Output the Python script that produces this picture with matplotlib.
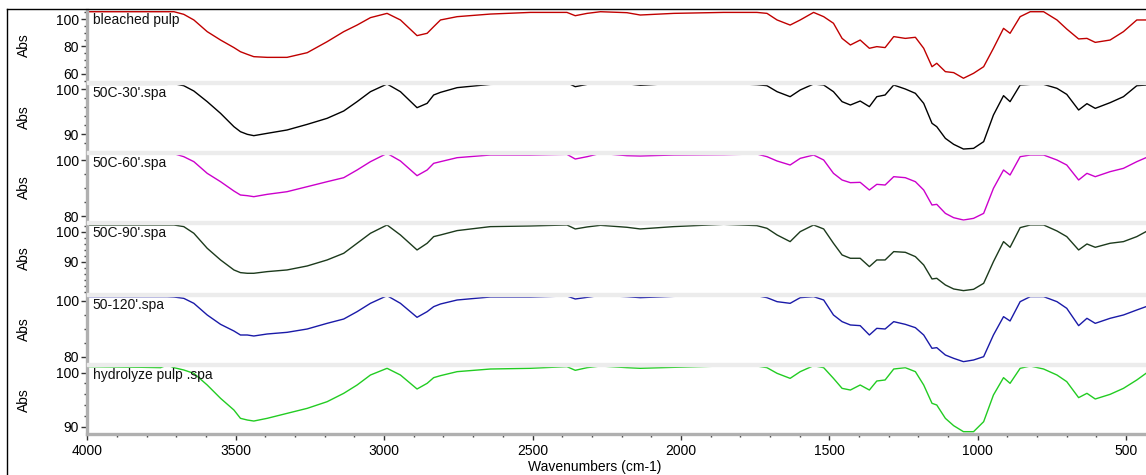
import matplotlib.pyplot as plt
from matplotlib.ticker import FixedLocator, MultipleLocator
from matplotlib.patches import Rectangle
from matplotlib.lines import Line2D

plt.rcParams['font.family'] = ['Liberation Sans', 'DejaVu Sans']

wavenumbers = [4000, 3820, 3753, 3731, 3708, 3675, 3641, 3596, 3551, 3506, 3484, 3461, 3439, 3394, 3327,
               3259, 3192, 3136, 3091, 3046, 2990, 2945, 2889, 2855, 2833,
               2810, 2754, 2642, 2507, 2384, 2356, 2316, 2271, 2182, 2137, 2024, 1856, 1744, 1710, 1676,
               1632, 1598, 1553, 1519, 1486, 1457, 1429, 1396, 1365, 1340, 1312, 1283, 1244, 1210, 1182,
               1154, 1138, 1109, 1081, 1048, 1014, 980, 947, 913, 891, 857, 823, 778, 733, 700, 660, 632,
               604, 554, 509, 464, 433]

bleached_pulp = [105.3, 105.3, 105.3, 105.3, 105.3, 103.4, 99.3, 90.8, 84.7, 79.2, 76.2, 74.3, 72.6, 72.1, 72.1,
                 75.5, 83.5, 90.8, 95.6, 101.0, 104.1, 99.3, 87.9, 89.6, 94.4,
                 99.3, 101.7, 103.6, 104.8, 104.8, 102.4, 104.1, 105.3, 104.6, 102.9, 104.1, 104.8, 104.8, 104.1, 99.3,
                 95.6, 99.3, 104.8, 101.7, 96.9, 85.9, 81.1, 84.7, 78.7, 79.9, 79.2, 87.2, 85.9, 86.7, 78.7,
                 65.3, 67.8, 61.7, 61.0, 56.9, 60.5, 65.3, 78.7, 93.2, 89.6, 101.7, 105.3, 105.3, 99.3, 92.7, 85.5, 85.9,
                 83.0, 84.7, 90.8, 99.3, 99.3]

c50_30 = [101.11, 101.11, 101.11, 101.11, 101.26, 100.81, 99.62, 97.24, 94.62, 91.64, 90.52, 89.93, 89.63, 90.15, 90.90,
          92.16, 93.51, 95.15, 97.24, 99.47, 101.19, 99.47, 95.89, 96.86, 98.73,
          99.32, 100.37, 101.11, 101.26, 101.49, 100.59, 101.11, 101.41, 101.26, 100.89, 101.34, 101.41, 101.04, 100.81, 99.47,
          98.35, 99.85, 101.19, 100.96, 99.47, 97.24, 96.49, 97.38, 96.12, 98.35, 98.73, 100.96, 100.07, 99.10, 96.86,
          92.39, 91.64, 89.03, 87.69, 86.64, 86.79, 88.29, 94.25, 98.58, 97.24, 100.96, 101.11, 101.11, 100.22, 98.87, 95.37, 96.79,
          95.74, 97.01, 98.35, 100.81, 100.96]

c50_60 = [102.33, 102.57, 102.57, 102.57, 102.45, 101.37, 99.58, 95.39, 92.39, 89.04, 87.61, 87.37, 87.01, 87.85, 88.80,
          90.60, 92.39, 93.83, 96.59, 99.58, 102.57, 99.82, 94.55, 96.59, 98.98,
          99.58, 101.01, 101.97, 101.97, 102.21, 100.53, 101.37, 102.57, 101.73, 101.61, 101.97, 102.09, 102.33, 101.37, 99.82,
          98.38, 100.77, 101.97, 100.18, 95.39, 93.00, 92.04, 92.16, 89.40, 91.44, 91.20, 94.19, 93.83, 92.39, 89.40,
          84.02, 84.26, 81.02, 79.47, 78.63, 79.23, 81.02, 90.00, 96.59, 94.79, 101.37, 101.97, 101.97, 100.18, 98.38, 93.00, 95.39,
          94.19, 95.99, 97.18, 99.58, 101.01]

c50_90 = [102.24, 102.24, 102.24, 102.24, 102.24, 101.69, 99.47, 94.47, 90.58, 87.25, 86.36, 86.14, 86.14, 86.69, 87.25,
          88.58, 90.58, 92.81, 96.14, 99.47, 102.24, 98.91, 93.91, 96.14, 98.36,
          98.91, 100.36, 101.69, 101.91, 102.24, 100.91, 101.58, 102.13, 101.47, 100.91, 101.69, 102.46, 102.02, 101.13, 98.91,
          96.69, 100.02, 102.24, 100.91, 96.14, 92.25, 91.14, 91.14, 88.36, 90.58, 90.58, 93.36, 93.13, 91.69, 88.91,
          84.25, 84.47, 82.25, 80.91, 80.36, 80.80, 82.80, 90.02, 96.69, 94.80, 101.35, 102.24, 102.24, 100.24, 98.36, 93.91, 95.91,
          94.80, 96.14, 96.69, 98.36, 100.02]

c50_120 = [101.57, 101.57, 101.57, 101.57, 101.44, 100.96, 99.16, 94.96, 91.59, 89.19, 87.75, 87.75, 87.39, 88.11, 88.71,
           89.91, 91.95, 93.51, 96.16, 99.16, 101.92, 99.16, 94.12, 96.16, 97.96,
           98.92, 100.36, 101.44, 101.44, 101.80, 100.72, 101.32, 102.04, 101.57, 101.20, 101.68, 102.16, 101.92, 101.20, 99.76,
           99.16, 101.20, 101.57, 100.36, 94.96, 92.56, 91.36, 91.12, 87.75, 90.15, 89.91, 92.56, 91.59, 90.39, 87.75,
           82.95, 83.19, 80.54, 79.34, 78.14, 78.74, 79.94, 87.75, 94.36, 92.80, 99.76, 101.57, 101.57, 99.76, 97.36, 91.12, 93.76,
           91.95, 93.76, 94.96, 96.76, 97.96]

hydrolyze_pulp = [101.12, 101.00, 100.93, 101.42, 100.93, 100.50, 99.88, 97.72, 95.25, 93.09, 91.55, 91.24, 91.05, 91.55, 92.47,
                  93.40, 94.63, 96.18, 97.72, 99.57, 100.81, 99.57, 96.98, 98.03, 99.08,
                  99.45, 100.19, 100.68, 100.81, 101.12, 100.44, 100.93, 101.24, 100.93, 100.81, 100.99, 101.24, 101.24, 100.93, 99.88,
                  98.95, 100.19, 101.30, 100.93, 98.95, 97.10, 96.79, 97.72, 96.79, 98.46, 98.65, 100.68, 100.93, 100.19, 97.72,
                  94.33, 94.02, 91.55, 90.19, 89.08, 89.08, 90.93, 95.87, 99.08, 98.03, 100.81, 101.24, 100.68, 99.57, 98.34, 95.38, 96.18,
                  95.13, 95.99, 97.10, 98.65, 99.88]

spectra = [bleached_pulp, c50_30, c50_60, c50_90, c50_120, hydrolyze_pulp]
names = ["bleached pulp", "50C-30'.spa", "50C-60'.spa", "50C-90'.spa", "50-120'.spa", "hydrolyze pulp .spa"]
colors = ["#c00000", "#000000", "#cc00cc", "#1c3a1c", "#1a1aa8", "#22cc22"]
ytick_labels = [[60, 80, 100], [90, 100], [80, 100], [90, 100], [80, 100], [90, 100]]

# panel pixel bounds (top, bottom), y limits and minor tick step
W, H = 1146, 475
panels = [(10, 81), (83.5, 151), (153.5, 221), (223.5, 293), (295.5, 363), (365.5, 434)]
ylims = [(54.9, 106.55), (86.2, 101.3), (78.28, 102.51), (79.57, 102.73), (77.66, 101.98), (88.65, 101.33)]
yminor = [5, 2, 5, 2, 5, 2]
left = 87.3

fig = plt.figure(figsize=(W / 100, H / 100), dpi=100)

for i in range(len(spectra)):
    top, bot = panels[i]
    ax = fig.add_axes([left / W, 1 - bot / H, (W - left) / W, (bot - top) / H])
    ax.plot(wavenumbers, spectra[i], color=colors[i], lw=1.0, clip_on=False)
    ax.set_xlim(4000, 433)
    ax.set_ylim(*ylims[i])
    ax.yaxis.set_major_locator(FixedLocator(ytick_labels[i]))
    ax.yaxis.set_minor_locator(MultipleLocator(yminor[i]))
    for s in ["top", "right", "bottom"]:
        ax.spines[s].set_visible(False)
    ax.spines["left"].set_color("#b0b0b0")
    ax.spines["left"].set_linewidth(2.4)
    ax.tick_params(axis="y", which="major", length=4, width=1, color="#333333", labelsize=10, pad=2)
    ax.tick_params(axis="y", which="minor", length=2, width=1, color="#444444")
    if i == len(spectra) - 1:
        ax.spines["bottom"].set_visible(True)
        ax.spines["bottom"].set_color("#b0b0b0")
        ax.spines["bottom"].set_linewidth(2.4)
        ax.xaxis.set_major_locator(MultipleLocator(500))
        ax.xaxis.set_minor_locator(MultipleLocator(100))
        ax.tick_params(axis="x", which="major", length=4, width=1, color="#333333", labelsize=10, pad=3)
        ax.tick_params(axis="x", which="minor", length=2, width=1, color="#444444")
    else:
        ax.set_xticks([])
        ax.tick_params(axis="x", which="minor", bottom=False)
    ax.annotate(names[i], xy=(0, 1), xycoords="axes fraction", xytext=(4, -2), textcoords="offset points",
                ha="left", va="top", fontsize=10, color="#111111")
    fig.text(24 / W, 1 - (top + bot) / 2 / H, "Abs", rotation=90, ha="center", va="center", fontsize=10)

# light gray separators between the panels
for i in range(len(panels) - 1):
    y0 = panels[i][1]
    y1 = panels[i + 1][0]
    fig.patches.append(Rectangle((left / W, 1 - y1 / H), (W - left) / W, (y1 - y0) / H,
                                 transform=fig.transFigure, color="#ececec", zorder=0))

fig.text(595 / W, 1 - 467 / H, "Wavenumbers (cm-1)", ha="center", va="center", fontsize=10)

# outer frame
fig.lines.append(Line2D([7 / W, 7 / W], [0, 1 - 9 / H], transform=fig.transFigure, color="black", lw=1))
fig.lines.append(Line2D([7 / W, 1], [1 - 9 / H, 1 - 9 / H], transform=fig.transFigure, color="black", lw=1))

fig.savefig("out.png", dpi=100)
